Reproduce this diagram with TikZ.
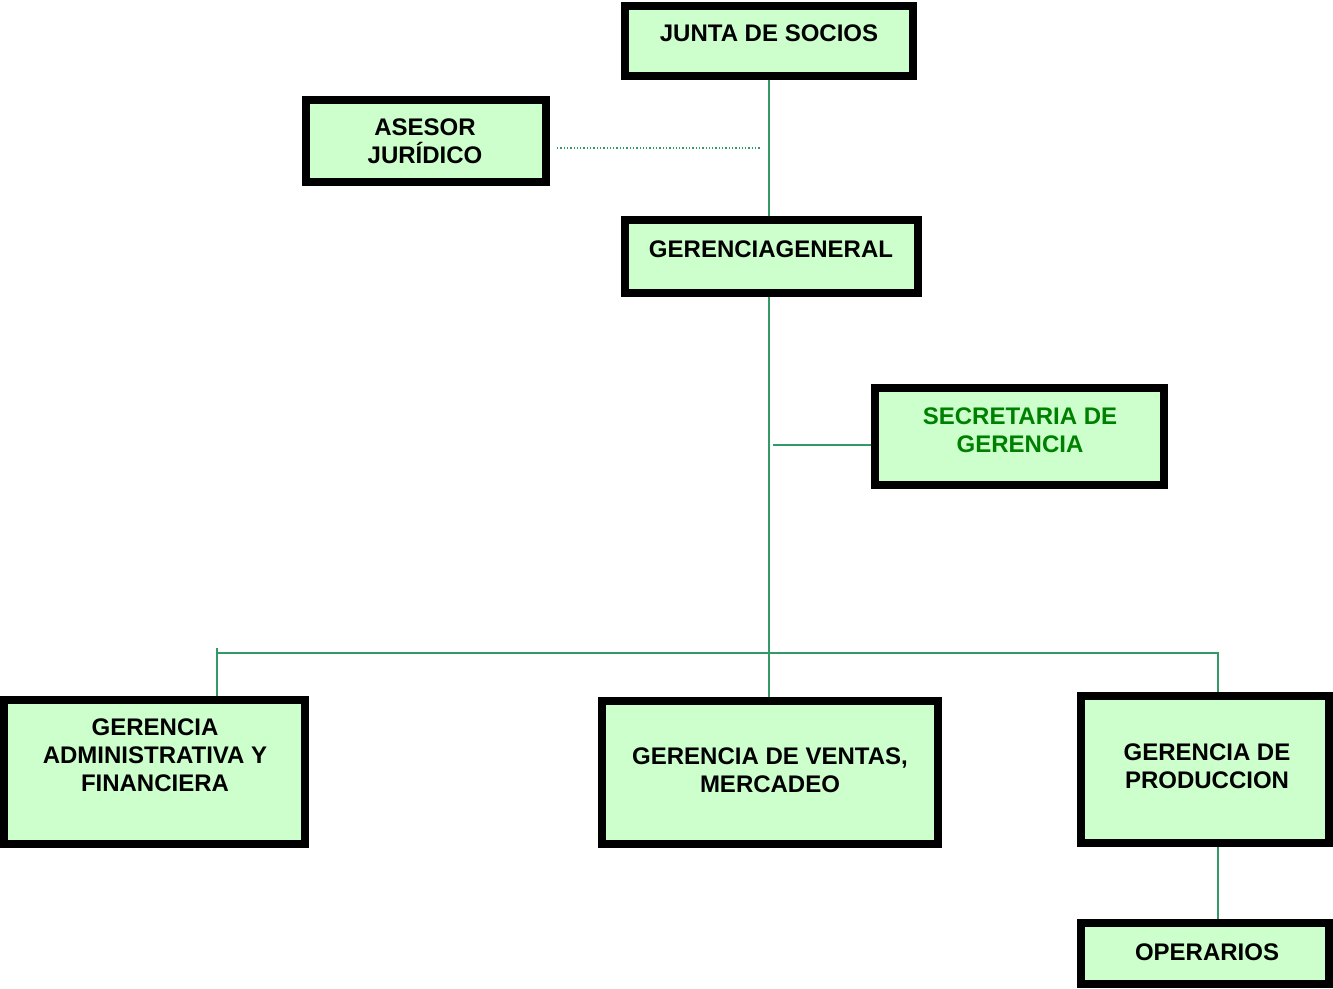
\documentclass[tikz,border=0pt]{standalone}
\usepackage{fontspec}
\setmainfont{Liberation Sans}
\begin{document}
\begin{tikzpicture}[x=1pt,y=-1pt,
  boxstyle/.style={draw=black,line width=8pt,fill=boxfill,inner sep=0pt},
  lbl/.style={inner sep=0pt,align=center,font=\fontsize{24}{28}\selectfont\bfseries},
  conn/.style={draw=linegreen,line width=1.8pt},
  dotconn/.style={draw=linegreen,line width=1.3pt,dotted}]
\definecolor{boxfill}{RGB}{204,255,204}
\definecolor{linegreen}{RGB}{51,153,102}
\definecolor{textgreen}{RGB}{0,128,0}
\useasboundingbox (0,0) rectangle (1333,988);
% boxes
\node[boxstyle,minimum width=288pt,minimum height=70pt] (junta) at (769,41) {};
\node[boxstyle,minimum width=240pt,minimum height=82pt] (ases) at (426,141) {};
\node[boxstyle,minimum width=293pt,minimum height=73pt] (gg) at (771.5,256.5) {};
\node[boxstyle,minimum width=289pt,minimum height=97pt] (sec) at (1019.5,436.5) {};
\node[boxstyle,minimum width=301pt,minimum height=144pt] (adm) at (154.5,772) {};
\node[boxstyle,minimum width=336pt,minimum height=143pt] (vent) at (770,772.5) {};
\node[boxstyle,minimum width=248pt,minimum height=147pt] (prod) at (1205,769.5) {};
\node[boxstyle,minimum width=248pt,minimum height=61pt] (oper) at (1205,953.5) {};
% labels
\node[lbl] (juntat) at (769,33) {JUNTA DE SOCIOS};
\node[lbl] (asest) at (425,141.5) {ASESOR\\JURÍDICO};
\node[lbl] (ggt) at (771,249) {GERENCIAGENERAL};
\node[lbl,text=textgreen] (sect) at (1020,430.5) {SECRETARIA DE\\GERENCIA};
\node[lbl] (admt) at (155,755) {GERENCIA\\ADMINISTRATIVA Y\\FINANCIERA};
\node[lbl] (ventt) at (770,770) {GERENCIA DE VENTAS,\\MERCADEO};
\node[lbl] (prodt) at (1207,766) {GERENCIA DE\\PRODUCCION};
\node[lbl] (opert) at (1207,952) {OPERARIOS};
% coordinates
\coordinate (barL) at (217,653);
\coordinate (barLtop) at (217,648);
\coordinate (barR) at (1218,653);
\coordinate (secL) at (773,445);
\coordinate (dotL) at (557,148);
\coordinate (dotR) at (761,148);
% connectors
\draw[conn] (junta.south) -- (junta.south |- gg.north);
\draw[conn] (junta.south |- gg.south) -- (junta.south |- vent.north);
\draw[conn] (barLtop) -- (barLtop |- adm.north);
\draw[conn] (barL) -- (barR) -- (barR |- prod.north);
\draw[conn] (barR |- prod.south) -- (barR |- oper.north);
\draw[conn] (secL) -- (secL -| sec.west);
\draw[dotconn] (dotL) -- (dotR);
\end{tikzpicture}
\end{document}
